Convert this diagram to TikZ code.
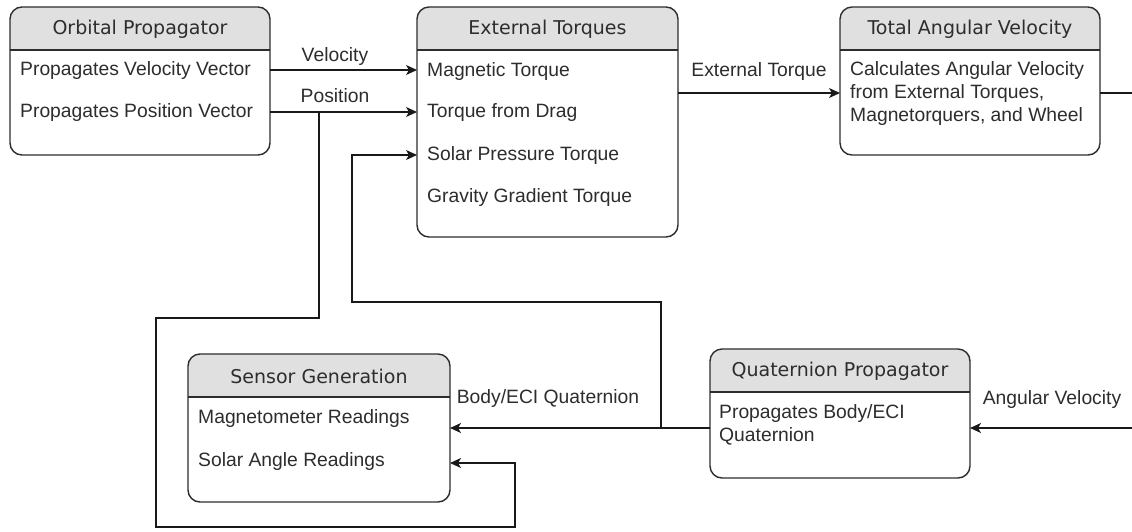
\documentclass[tikz,border=0pt]{standalone}
\usepackage{fontspec}
\setmainfont{Liberation Sans}
\newfontfamily\hdrfont{DejaVu Sans}
\usetikzlibrary{arrows.meta,calc}
\definecolor{hdr}{RGB}{224,224,224}
\definecolor{ink}{RGB}{45,45,45}
\definecolor{txt}{RGB}{45,45,45}
\tikzset{
 boxbg/.style={fill=white, inner sep=0pt, outer sep=0pt, anchor=north west},
 border/.style={draw=ink, line width=1.4pt, rounded corners=12pt},
 sepline/.style={draw=ink, line width=1.4pt},
 ttl/.style={font=\hdrfont\fontsize{19}{23}\selectfont, text=txt, inner sep=0pt},
 row/.style={font=\fontsize{19.3}{23}\selectfont, text=txt, anchor=west, inner sep=0pt, align=left},
 lbl/.style={font=\fontsize{19.3}{23}\selectfont, text=txt, inner sep=0pt},
 wire/.style={draw=black!90, line width=1.4pt},
 arr/.style={wire, -{Stealth[length=11pt,width=10pt,inset=3pt]}},
}
\newcommand\mkbox[6]{%
 \node[boxbg, minimum width=#4pt, minimum height=#5pt] (#1) at (#2,#3) {};
 \begin{scope}
 \clip[rounded corners=12pt] (#1.south west) rectangle (#1.north east);
 \fill[hdr] (#1.north west) rectangle ([yshift=-43pt]#1.north east);
 \end{scope}
 \draw[sepline] ([yshift=-43pt]#1.north west) -- ([yshift=-43pt]#1.north east);
 \draw[border] (#1.south west) rectangle (#1.north east);
 \node[ttl] (#1-t) at ([yshift=-22pt]#1.north) {#6};
}
\begin{document}
\begin{tikzpicture}[x=1pt,y=-1pt]
\path[use as bounding box, fill=white] (0,0) rectangle (1132,531);

\mkbox{orb}{10}{7}{260}{148}{Orbital Propagator}
\mkbox{ext}{417}{7}{261}{230}{External Torques}
\mkbox{tot}{840}{7}{260}{148}{Total Angular Velocity}
\mkbox{sen}{188}{354}{262}{148}{Sensor Generation}
\mkbox{qua}{710}{349}{260}{129}{Quaternion Propagator}

\node[row] (ov) at (20,71) {Propagates Velocity Vector};
\node[row] (op) at (20,113) {Propagates Position Vector};
\node[row] (em) at (427,72) {Magnetic Torque};
\node[row] (ed) at (427,113) {Torque from Drag};
\node[row] (es) at (427,156) {Solar Pressure Torque};
\node[row] (eg) at (427,198) {Gravity Gradient Torque};
\node[row] (tv) at (850,94) {Calculates Angular Velocity\\from External Torques,\\Magnetorquers, and Wheel};
\node[row] (sm) at (198,419) {Magnetometer Readings};
\node[row] (ss) at (198,461) {Solar Angle Readings};
\node[row] (qv) at (719,425) {Propagates Body/ECI\\Quaternion};

\coordinate (yv) at (0,70);
\coordinate (yp) at (0,112);
\coordinate (ys) at (0,155);
\coordinate (yt) at (0,93);
\coordinate (ysa) at (0,463);
\coordinate (rout) at (1132,93);
\coordinate (rin) at (1132,428);
\coordinate (pj) at (319,112);
\coordinate (qj) at (661,428);

\draw[arr] (orb.east |- yv) -- (ext.west |- yv);
\node[lbl] (lv) at (335,57) {Velocity};
\draw[arr] (orb.east |- yp) -- (ext.west |- yp);
\node[lbl] (lp) at (335,96) {Position};
\draw[arr] (pj) -- (319,318) -| (156,527) -| (515,463) -- (sen.east |- ysa);

\draw[arr] (ext.east |- yt) -- (tot.west |- yt);
\node[lbl] (lt) at (759,72) {External Torque};
\draw[wire] (tot.east |- yt) -- (rout);

\draw[arr] (rin) -- (rin -| qua.east);
\node[lbl] (la) at (1052,400) {Angular Velocity};
\draw[arr] (qua.west |- rin) -- (sen.east |- rin);
\node[lbl] (lb) at (548,399) {Body/ECI Quaternion};
\draw[arr] (qj) -- (661,302) -| (352,155) -- (ext.west |- ys);
\end{tikzpicture}
\end{document}
